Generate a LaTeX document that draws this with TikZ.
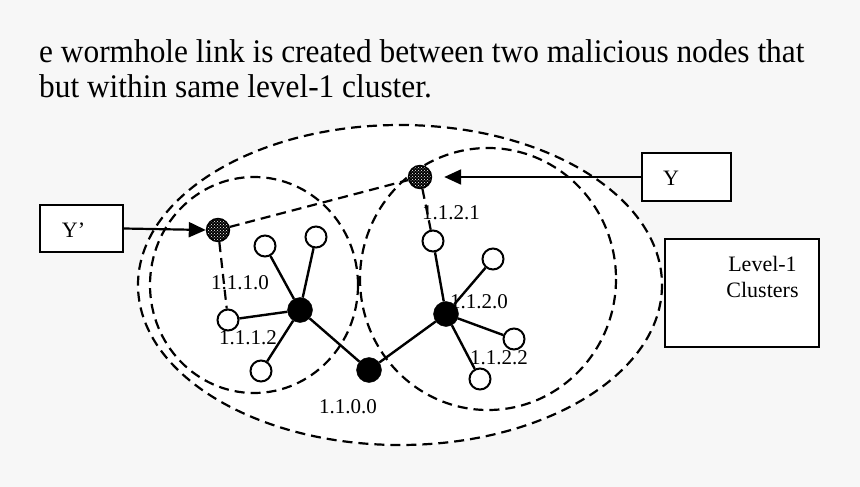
\documentclass[tikz,border=0pt]{standalone}
\usepackage{fontspec}
\setmainfont{Liberation Serif}
\usetikzlibrary{patterns,arrows.meta}

\begin{document}
\begin{tikzpicture}[x=1pt,y=-1pt,
	cluster/.style={draw,line width=2.2pt,dash pattern=on 10pt off 6pt},
	headnode/.style={draw,circle,fill=black,minimum size=25pt,inner sep=0pt},
	plainnode/.style={draw,circle,fill=white,line width=2pt,minimum size=21pt,inner sep=0pt},
	badnode/.style={draw,circle,line width=1.4pt,minimum size=23pt,inner sep=0pt,
		preaction={fill=black},pattern=crosshatch dots,pattern color=white},
	namebox/.style={draw,fill=white,line width=2pt},
	addr/.style={font=\fontsize{21}{23}\selectfont},
	link/.style={line width=2.4pt},
	wormhole/.style={line width=2.2pt,dash pattern=on 10pt off 6pt},
	pointer/.style={line width=2.2pt,-{Triangle[length=17pt,width=15pt]}}]
	\useasboundingbox (0,0) rectangle (860,487);
	\fill[black!3] (0,0) rectangle (860,487);

	% caption lines
	\node[anchor=base west,inner sep=0pt,font=\fontsize{33}{35}\selectfont] (line1) at (39,63) {\scalebox{0.95}[1]{e wormhole link is created between two malicious nodes that}};
	\node[anchor=base west,inner sep=0pt,font=\fontsize{33}{35}\selectfont] (line2) at (39,98) {\scalebox{0.95}[1]{but within same level-1 cluster.}};

	% clusters
	\fill[white] (400,285) ellipse [x radius=262,y radius=160];
	\draw[cluster] (400,285) ellipse [x radius=262,y radius=160];
	\draw[cluster] (254,285) ellipse [x radius=104,y radius=108];
	\draw[cluster] (488,279) ellipse [x radius=128,y radius=131];

	% nodes
	\node[headnode] (c0) at (369,370) {};
	\node[headnode] (l0) at (300,310) {};
	\node[headnode] (r0) at (446,314) {};
	\node[plainnode] (l1) at (265,246) {};
	\node[plainnode] (l2) at (316,237) {};
	\node[plainnode] (l3) at (228,320) {};
	\node[plainnode] (l4) at (261,371) {};
	\node[plainnode] (r1) at (433,241) {};
	\node[plainnode] (r2) at (493,259) {};
	\node[plainnode] (r3) at (514,339) {};
	\node[plainnode] (r4) at (480,379) {};
	\node[badnode] (yp) at (218,230) {};
	\node[badnode] (y) at (420,177) {};

	% addresses
	\node[addr] (a1110) at (240,283) {1.1.1.0};
	\node[addr] (a1112) at (248,338) {1.1.1.2};
	\node[addr] (a1121) at (451,213) {1.1.2.1};
	\node[addr] (a1120) at (479,302) {1.1.2.0};
	\node[addr] (a1122) at (499,358) {1.1.2.2};
	\node[addr] (a1100) at (348,407) {1.1.0.0};

	% links
	\draw[link] (l0) -- (l1);
	\draw[link] (l0) -- (l2);
	\draw[link] (l0) -- (l3);
	\draw[link] (l0) -- (l4);
	\draw[link] (l0) -- (c0);
	\draw[link] (r0) -- (r1);
	\draw[link] (r0) -- (r2);
	\draw[link] (r0) -- (r3);
	\draw[link] (r0) -- (r4);
	\draw[link] (r0) -- (c0);

	% wormhole
	\draw[wormhole] (yp) -- (y);
	\draw[wormhole] (yp) -- (l3);
	\draw[wormhole] (y) -- (r1);

	% boxes
	\node[namebox,minimum width=83pt,minimum height=47pt] (ypbox) at (81.5,228.5) {};
	\node[font=\fontsize{22}{24}\selectfont] (yptext) at (73.5,230) {Y’};
	\node[namebox,minimum width=89pt,minimum height=48pt] (ybox) at (686.5,177) {};
	\node[font=\fontsize{22}{24}\selectfont] (ytext) at (671,178) {Y};
	\node[namebox,minimum width=154pt,minimum height=108pt] (lvbox) at (742,293) {};
	\node[font=\fontsize{22}{26}\selectfont,align=center] (lvtext) at (762.5,277) {Level-1\\Clusters};

	% pointers
	\draw[pointer] (ypbox.east) -- (yp.west);
	\draw[pointer,shorten >=12pt] (ybox.west) -- (y.east);
\end{tikzpicture}
\end{document}
